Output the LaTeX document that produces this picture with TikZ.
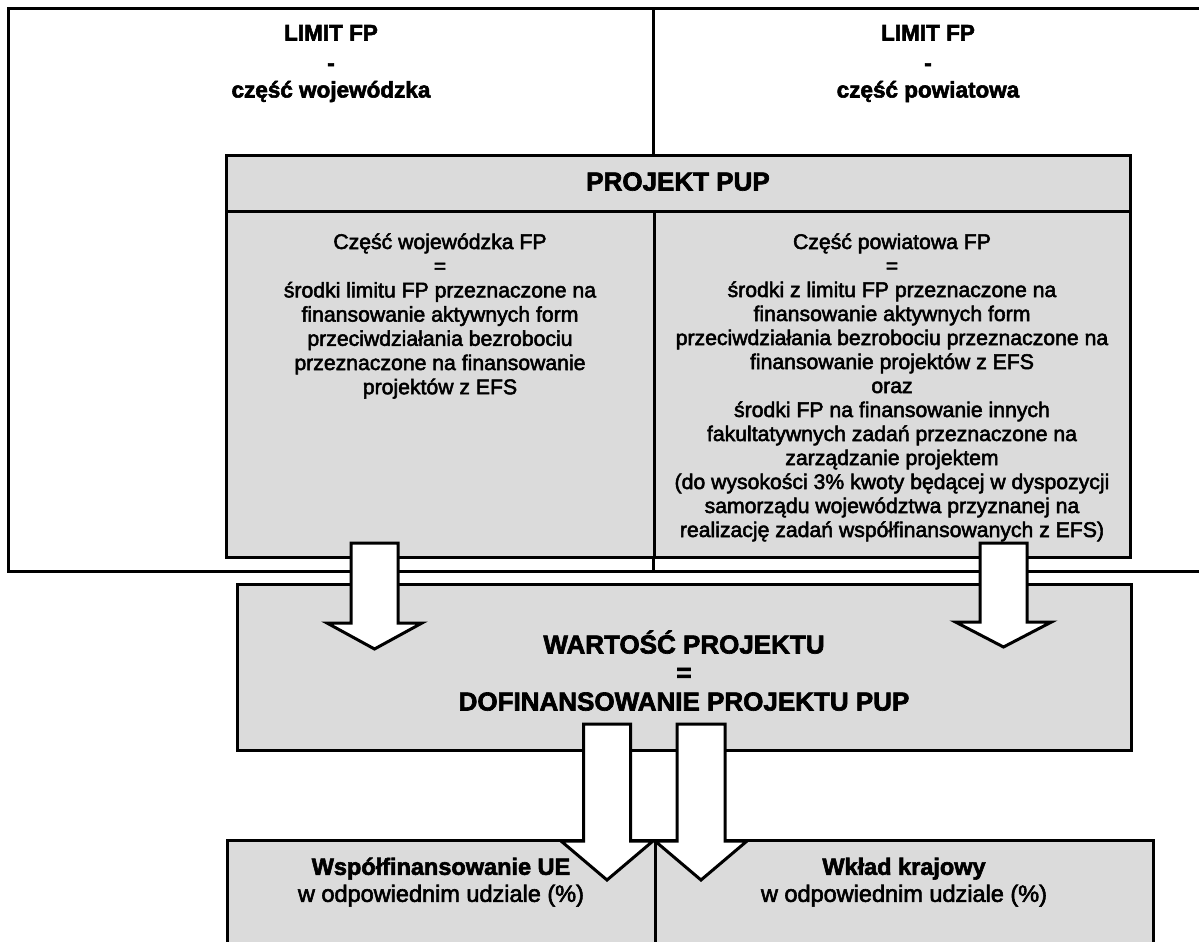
\documentclass[tikz,border=0pt]{standalone}
\usepackage{fontspec}
\setmainfont[FakeBold=2.5]{Liberation Sans}
\definecolor{boxgray}{gray}{0.86}
\newcommand{\blkarrow}[6]{%
  \draw[blockarrow] ({#1-#2},#3) -- ({#1+#2},#3) -- ({#1+#2},#4) -- ({#1+#5},#4)
    -- (#1,#6) -- ({#1-#5},#4) -- ({#1-#2},#4) -- cycle;}
\begin{document}
\begin{tikzpicture}[x=1pt,y=-1pt,
  frame/.style={line width=3pt, draw=black},
  graybox/.style={frame, fill=boxgray},
  blockarrow/.style={line width=3pt, draw=black, fill=white},
  ttl/.style={font=\fontsize{22.5}{27}\selectfont\bfseries, anchor=base, inner sep=0pt},
  coltext/.style={font=\fontsize{21.2}{24}\selectfont, anchor=base, inner sep=0pt},
  bigtext/.style={font=\fontsize{26}{30}\selectfont\bfseries, anchor=base, inner sep=0pt},
  bottext/.style={font=\fontsize{23.5}{27}\selectfont, anchor=base, inner sep=0pt},
]
\fill[white] (0,0) rectangle (1199,942);
\useasboundingbox (0,0) rectangle (1199,942);
\clip (0,0) rectangle (1199,942);

% top frame: LIMIT FP
\draw[frame] (8,9) rectangle (1220,571);
\draw[frame] (653,9) -- (653,571);
\node[ttl] (lw1) at (331,40.5) {LIMIT FP};
\node[ttl] (lw2) at (331,70.5) {-};
\node[ttl] (lw3) at (331,97.5) {część wojewódzka};
\node[ttl] (lp1) at (928,40.5) {LIMIT FP};
\node[ttl] (lp2) at (928,70.5) {-};
\node[ttl] (lp3) at (928,97.5) {część powiatowa};

% PROJEKT PUP box
\draw[graybox] (226,155) rectangle (1130,557);
\draw[frame] (226,211) -- (1130,211);
\draw[frame] (654,211) -- (654,557);
\node[bigtext] (pup) at (678,190.5) {PROJEKT PUP};

% WARTOSC box
\draw[graybox] (237,584) rectangle (1131,750);
\node[bigtext] (w1) at (684,653.5) {WARTOŚĆ PROJEKTU};
\node[bigtext] (w2) at (684,681.5) {=};
\node[bigtext] (w3) at (684,710.5) {DOFINANSOWANIE PROJEKTU PUP};

% bottom boxes
\draw[graybox] (227,840) rectangle (1153,970);
\draw[frame] (655,840) -- (655,970);
\node[bottext, font=\fontsize{23.5}{27}\selectfont\bfseries] (ue1) at (441,874.8) {Współfinansowanie UE};
\node[bottext] (ue2) at (441,901.8) {w odpowiednim udziale (\%)};
\node[bottext, font=\fontsize{23.5}{27}\selectfont\bfseries] (kr1) at (904,874.8) {Wkład krajowy};
\node[bottext] (kr2) at (904,901.8) {w odpowiednim udziale (\%)};

% block arrows
\blkarrow{374.5}{23.5}{543}{623}{47.5}{649}
\blkarrow{1003.5}{23.5}{543}{622}{48}{647}
\blkarrow{607}{23.5}{724}{841}{46}{880}
\blkarrow{701}{24}{724}{841}{46}{880}

% column texts
\foreach \t [count=\i from 0] in {{Część wojewódzka FP}, {=}, {środki limitu FP przeznaczone na},
  {finansowanie aktywnych form}, {przeciwdziałania bezrobociu}, {przeznaczone na finansowanie},
  {projektów z EFS}}
  \node[coltext] (lc\i) at (440,{249+\i*24.2}) {\t};
\foreach \t [count=\i from 0] in {{Część powiatowa FP}, {=}, {środki z limitu FP przeznaczone na},
  {finansowanie aktywnych form}, {przeciwdziałania bezrobociu przeznaczone na},
  {finansowanie projektów z EFS}, {oraz}, {środki FP na finansowanie innych},
  {fakultatywnych zadań przeznaczone na}, {zarządzanie projektem},
  {(do wysokości 3\% kwoty będącej w dyspozycji}, {samorządu województwa przyznanej na},
  {realizację zadań współfinansowanych z EFS)}}
  \node[coltext] (rc\i) at (892,{249+\i*24.0}) {\t};
\end{tikzpicture}
\end{document}
